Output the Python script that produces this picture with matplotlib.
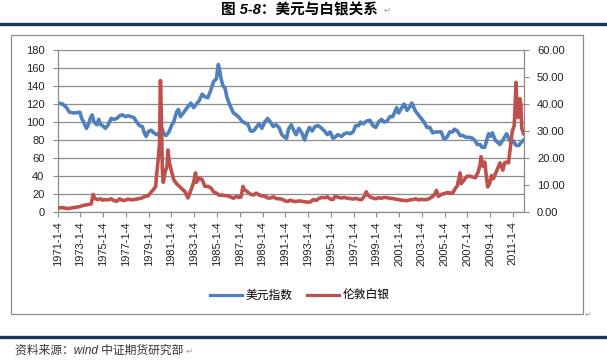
import matplotlib
matplotlib.use('Agg')
import matplotlib.pyplot as plt
from matplotlib.lines import Line2D
from matplotlib.patches import Rectangle
import pandas as pd

plt.rcParams['font.family'] = ['Liberation Sans', 'Noto Sans CJK SC', 'DejaVu Sans']

# 美元指数 (左轴)
usd_dates = [
    "1971-01", "1971-06", "1971-10", "1972-01", "1972-06", "1972-12", "1973-02", "1973-04",
    "1973-07", "1973-09", "1973-11", "1974-01", "1974-03", "1974-06", "1974-08", "1974-10",
    "1974-12", "1975-03", "1975-06", "1975-09", "1975-12", "1976-03", "1976-06", "1976-09",
    "1976-12", "1977-03", "1977-06", "1977-09", "1977-12", "1978-03", "1978-06", "1978-08",
    "1978-10", "1978-12", "1979-03", "1979-06", "1979-09", "1979-12", "1980-03", "1980-05",
    "1980-07", "1980-10", "1981-01", "1981-03", "1981-06", "1981-08", "1981-10", "1982-01",
    "1982-06", "1982-09", "1982-12", "1983-03", "1983-06", "1983-09", "1983-12", "1984-03",
    "1984-06", "1984-09", "1984-12", "1985-02", "1985-03", "1985-05", "1985-07", "1985-09",
    "1985-11", "1986-01", "1986-03", "1986-06", "1986-09", "1986-12", "1987-03", "1987-06",
    "1987-09", "1987-12", "1988-03", "1988-06", "1988-09", "1988-12", "1989-03", "1989-06",
    "1989-09", "1989-12", "1990-03", "1990-06", "1990-09", "1990-12", "1991-02", "1991-04",
    "1991-07", "1991-09", "1991-12", "1992-03", "1992-06", "1992-09", "1992-11", "1993-02",
    "1993-05", "1993-08", "1993-11", "1994-02", "1994-06", "1994-09", "1994-12", "1995-03",
    "1995-05", "1995-08", "1995-12", "1996-03", "1996-06", "1996-09", "1996-12", "1997-03",
    "1997-06", "1997-08", "1997-11", "1998-02", "1998-06", "1998-09", "1998-12", "1999-03",
    "1999-06", "1999-09", "1999-12", "2000-03", "2000-06", "2000-10", "2000-12", "2001-03",
    "2001-06", "2001-09", "2001-12", "2002-02", "2002-06", "2002-09", "2002-12", "2003-03",
    "2003-06", "2003-09", "2003-12", "2004-03", "2004-06", "2004-09", "2004-12", "2005-03",
    "2005-06", "2005-09", "2005-11", "2006-02", "2006-05", "2006-08", "2006-11", "2007-03",
    "2007-06", "2007-09", "2007-11", "2008-02", "2008-04", "2008-07", "2008-09", "2008-11",
    "2009-01", "2009-03", "2009-06", "2009-09", "2009-11", "2010-02", "2010-06", "2010-09",
    "2010-11", "2011-01", "2011-04", "2011-07", "2011-09", "2011-12",
]
usd_values = [
    121, 120, 116, 111, 110, 111, 104, 100,
    93, 97, 104, 108, 100, 97, 103, 97,
    96, 93, 97, 104, 103, 104, 107, 108,
    106, 107, 106, 105, 100, 96, 95, 88,
    84, 89, 91, 88, 86, 88, 92, 86,
    85, 89, 97, 100, 111, 114, 106, 110,
    117, 121, 116, 120, 124, 131, 128, 127,
    135, 145, 148, 164, 160, 148, 140, 138,
    128, 122, 117, 110, 108, 105, 101, 99,
    98, 90, 90, 94, 98, 93, 100, 104,
    100, 95, 97, 94, 86, 83, 82, 92,
    97, 92, 86, 93, 88, 80, 87, 94,
    90, 95, 96, 94, 90, 86, 89, 82,
    83, 86, 84, 87, 88, 87, 89, 96,
    96, 100, 98, 101, 102, 96, 94, 100,
    103, 100, 101, 106, 106, 116, 110, 115,
    120, 113, 117, 121, 112, 108, 104, 100,
    94, 94, 88, 89, 89, 89, 81, 83,
    89, 89, 92, 90, 85, 85, 83, 83,
    82, 79, 75, 75, 72, 72, 80, 87,
    84, 88, 80, 77, 75, 80, 87, 80,
    77, 79, 74, 74, 77, 80,
]

# 伦敦白银 (右轴)
ag_dates = [
    "1971-01", "1971-06", "1971-11", "1972-03", "1972-08", "1972-12", "1973-03", "1973-06",
    "1973-09", "1973-12", "1974-02", "1974-04", "1974-07", "1974-10", "1974-12", "1975-03",
    "1975-06", "1975-09", "1975-12", "1976-03", "1976-06", "1976-09", "1976-12", "1977-03",
    "1977-06", "1977-09", "1977-12", "1978-03", "1978-06", "1978-09", "1978-12", "1979-03",
    "1979-06", "1979-08", "1979-09", "1979-10", "1979-12", "1980-01", "1980-02", "1980-03",
    "1980-04", "1980-06", "1980-08", "1980-09", "1980-10", "1980-12", "1981-03", "1981-06",
    "1981-09", "1981-12", "1982-03", "1982-06", "1982-09", "1982-12", "1983-02", "1983-03",
    "1983-06", "1983-09", "1983-12", "1984-03", "1984-06", "1984-09", "1984-12", "1985-03",
    "1985-06", "1985-09", "1985-12", "1986-03", "1986-06", "1986-09", "1986-12", "1987-02",
    "1987-04", "1987-05", "1987-08", "1987-10", "1987-12", "1988-03", "1988-06", "1988-09",
    "1988-12", "1989-03", "1989-06", "1989-09", "1989-12", "1990-03", "1990-06", "1990-09",
    "1990-12", "1991-03", "1991-06", "1991-09", "1991-12", "1992-03", "1992-06", "1992-09",
    "1992-12", "1993-03", "1993-06", "1993-09", "1993-12", "1994-03", "1994-06", "1994-09",
    "1994-12", "1995-03", "1995-05", "1995-09", "1995-12", "1996-03", "1996-06", "1996-09",
    "1996-12", "1997-03", "1997-06", "1997-09", "1997-12", "1998-02", "1998-04", "1998-07",
    "1998-10", "1998-12", "1999-03", "1999-06", "1999-09", "1999-12", "2000-03", "2000-06",
    "2000-09", "2000-12", "2001-03", "2001-06", "2001-09", "2001-12", "2002-03", "2002-06",
    "2002-09", "2002-12", "2003-03", "2003-06", "2003-09", "2003-12", "2004-02", "2004-04",
    "2004-06", "2004-09", "2004-12", "2005-03", "2005-06", "2005-09", "2005-12", "2006-02",
    "2006-04", "2006-05", "2006-06", "2006-09", "2006-12", "2007-03", "2007-06", "2007-09",
    "2007-12", "2008-02", "2008-03", "2008-05", "2008-07", "2008-09", "2008-10", "2008-12",
    "2009-02", "2009-04", "2009-06", "2009-09", "2009-11", "2010-02", "2010-04", "2010-06",
    "2010-08", "2010-10", "2010-12", "2011-02", "2011-04", "2011-05", "2011-06", "2011-08",
    "2011-09", "2011-10", "2011-12",
]
ag_values = [
    1.6, 1.6, 1.3, 1.5, 1.8, 2.0, 2.4, 2.6,
    2.8, 3.0, 6.5, 5.0, 4.6, 4.9, 4.4, 4.6,
    4.5, 4.9, 4.2, 4.0, 4.9, 4.3, 4.4, 4.8,
    4.5, 4.6, 4.8, 5.0, 5.3, 5.8, 6.0, 7.3,
    8.5, 9.5, 14, 17, 25, 48.7, 35, 16,
    11, 15, 17, 23, 19, 16, 12, 10.5,
    9.5, 8.5, 7.5, 5.2, 8, 11, 14.5, 11,
    12.5, 12, 9.5, 9.5, 9, 7.5, 7.0, 6.2,
    6.3, 6.1, 6.0, 5.6, 5.1, 5.8, 5.4, 5.6,
    9.5, 8.5, 7.7, 7.2, 6.6, 6.3, 7.0, 6.3,
    6.0, 5.9, 5.2, 5.2, 5.6, 5.0, 4.9, 4.8,
    4.2, 3.9, 4.4, 4.0, 3.9, 4.1, 4.0, 3.8,
    3.7, 3.7, 4.6, 4.3, 5.0, 5.4, 5.3, 5.6,
    4.8, 4.6, 5.8, 5.4, 5.2, 5.4, 5.1, 5.0,
    4.8, 5.1, 4.7, 4.6, 5.8, 7.5, 6.2, 5.4,
    5.1, 4.9, 5.3, 5.1, 5.4, 5.3, 5.1, 5.0,
    4.8, 4.6, 4.4, 4.3, 4.2, 4.5, 4.6, 4.9,
    4.5, 4.7, 4.6, 4.6, 5.1, 5.8, 6.5, 8.0,
    5.8, 6.5, 6.8, 7.2, 7.1, 7.0, 8.8, 9.8,
    12.8, 14.5, 10.5, 11.8, 13.2, 13.3, 13.0, 12.7,
    14.8, 17.5, 20.5, 17.0, 18.5, 12.0, 9.3, 10.5,
    13.5, 12.3, 14.0, 16.5, 18.2, 15.5, 18.3, 18.5,
    18.2, 24, 30, 32, 48, 36, 35, 42,
    40, 31, 29,
]

tick_years = list(range(1971, 2012, 2))

BLUE = '#4F81BD'
RED = '#C0504D'
GRID = '#8C8C8C'
NAVY = '#17375E'

fig = plt.figure(figsize=(6.07, 3.60), dpi=100)
fig.patch.set_facecolor('white')

# 外框、横线、标题和来源
fig.patches.append(Rectangle((0.018, 0.128), 0.942, 0.775, transform=fig.transFigure,
                             fill=False, edgecolor='#8C8C8C', linewidth=0.9))
fig.lines.append(Line2D([0, 1], [0.933, 0.933], transform=fig.transFigure,
                        color=NAVY, linewidth=2.4))
fig.lines.append(Line2D([0, 1], [0.064, 0.064], transform=fig.transFigure,
                        color=NAVY, linewidth=2.4))
fig.text(0.494, 0.972, "图 5-8：美元与白银关系", ha='center', va='center',
         fontsize=10.5, fontweight='bold', style='italic', color='black')
fig.text(0.025, 0.025, "资料来源：wind 中证期货研究部", ha='left', va='center',
         fontsize=8.5, style='italic', color='#333333')
# 段落标记
for x, y in [(0.632, 0.972), (0.305, 0.025), (0.963, 0.128)]:
    fig.text(x, y, "\u21b5", ha='left', va='center', fontsize=6, color='#9A9A9A',
             family='DejaVu Sans')

ax = fig.add_axes([0.095, 0.411, 0.768, 0.450])
ax2 = ax.twinx()

usd_x = pd.to_datetime([d + "-15" for d in usd_dates])
ag_x = pd.to_datetime([d + "-15" for d in ag_dates])

ax.plot(usd_x, usd_values, color=BLUE, linewidth=2.6, solid_joinstyle='round')
ax2.plot(ag_x, ag_values, color=RED, linewidth=2.6, solid_joinstyle='round')

ax.set_ylim(0, 180)
ax.set_yticks(range(0, 181, 20))
ax2.set_ylim(0, 60)
ax2.set_yticks(range(0, 61, 10))
ax2.set_yticklabels([f"{v:.2f}" for v in range(0, 61, 10)])

ticks = pd.to_datetime([f"{y}-01-04" for y in tick_years])
ax.set_xlim(pd.Timestamp("1971-01-04"), pd.Timestamp("2011-12-20"))
ax.set_xticks(ticks)
ax.set_xticklabels([f"{y}-1-4" for y in tick_years], rotation=90)

ax.grid(axis='y', color=GRID, linewidth=0.9)
ax.set_axisbelow(True)
for a in (ax, ax2):
    for s in a.spines.values():
        s.set_visible(False)
ax.spines['left'].set_visible(True)
ax.spines['bottom'].set_visible(True)
ax2.spines['right'].set_visible(True)
for s in (ax.spines['left'], ax.spines['bottom'], ax2.spines['right']):
    s.set_color(GRID)
    s.set_linewidth(0.9)

ax.tick_params(axis='both', direction='out', length=3.5, color=GRID, labelsize=8,
               labelcolor='#222222', pad=3)
ax2.tick_params(axis='y', direction='out', length=3.5, color=GRID, labelsize=8,
                labelcolor='#222222', pad=6)
ax.tick_params(axis='y', pad=6)

handles = [Line2D([], [], color=BLUE, linewidth=2.3), Line2D([], [], color=RED, linewidth=2.3)]
fig.legend(handles, ['美元指数', '伦敦白银'], loc='center', bbox_to_anchor=(0.494, 0.178),
           ncol=2, frameon=False, fontsize=8.5, handlelength=2.7, columnspacing=1.2,
           handletextpad=0.3)

fig.savefig('out.png', dpi=100)
